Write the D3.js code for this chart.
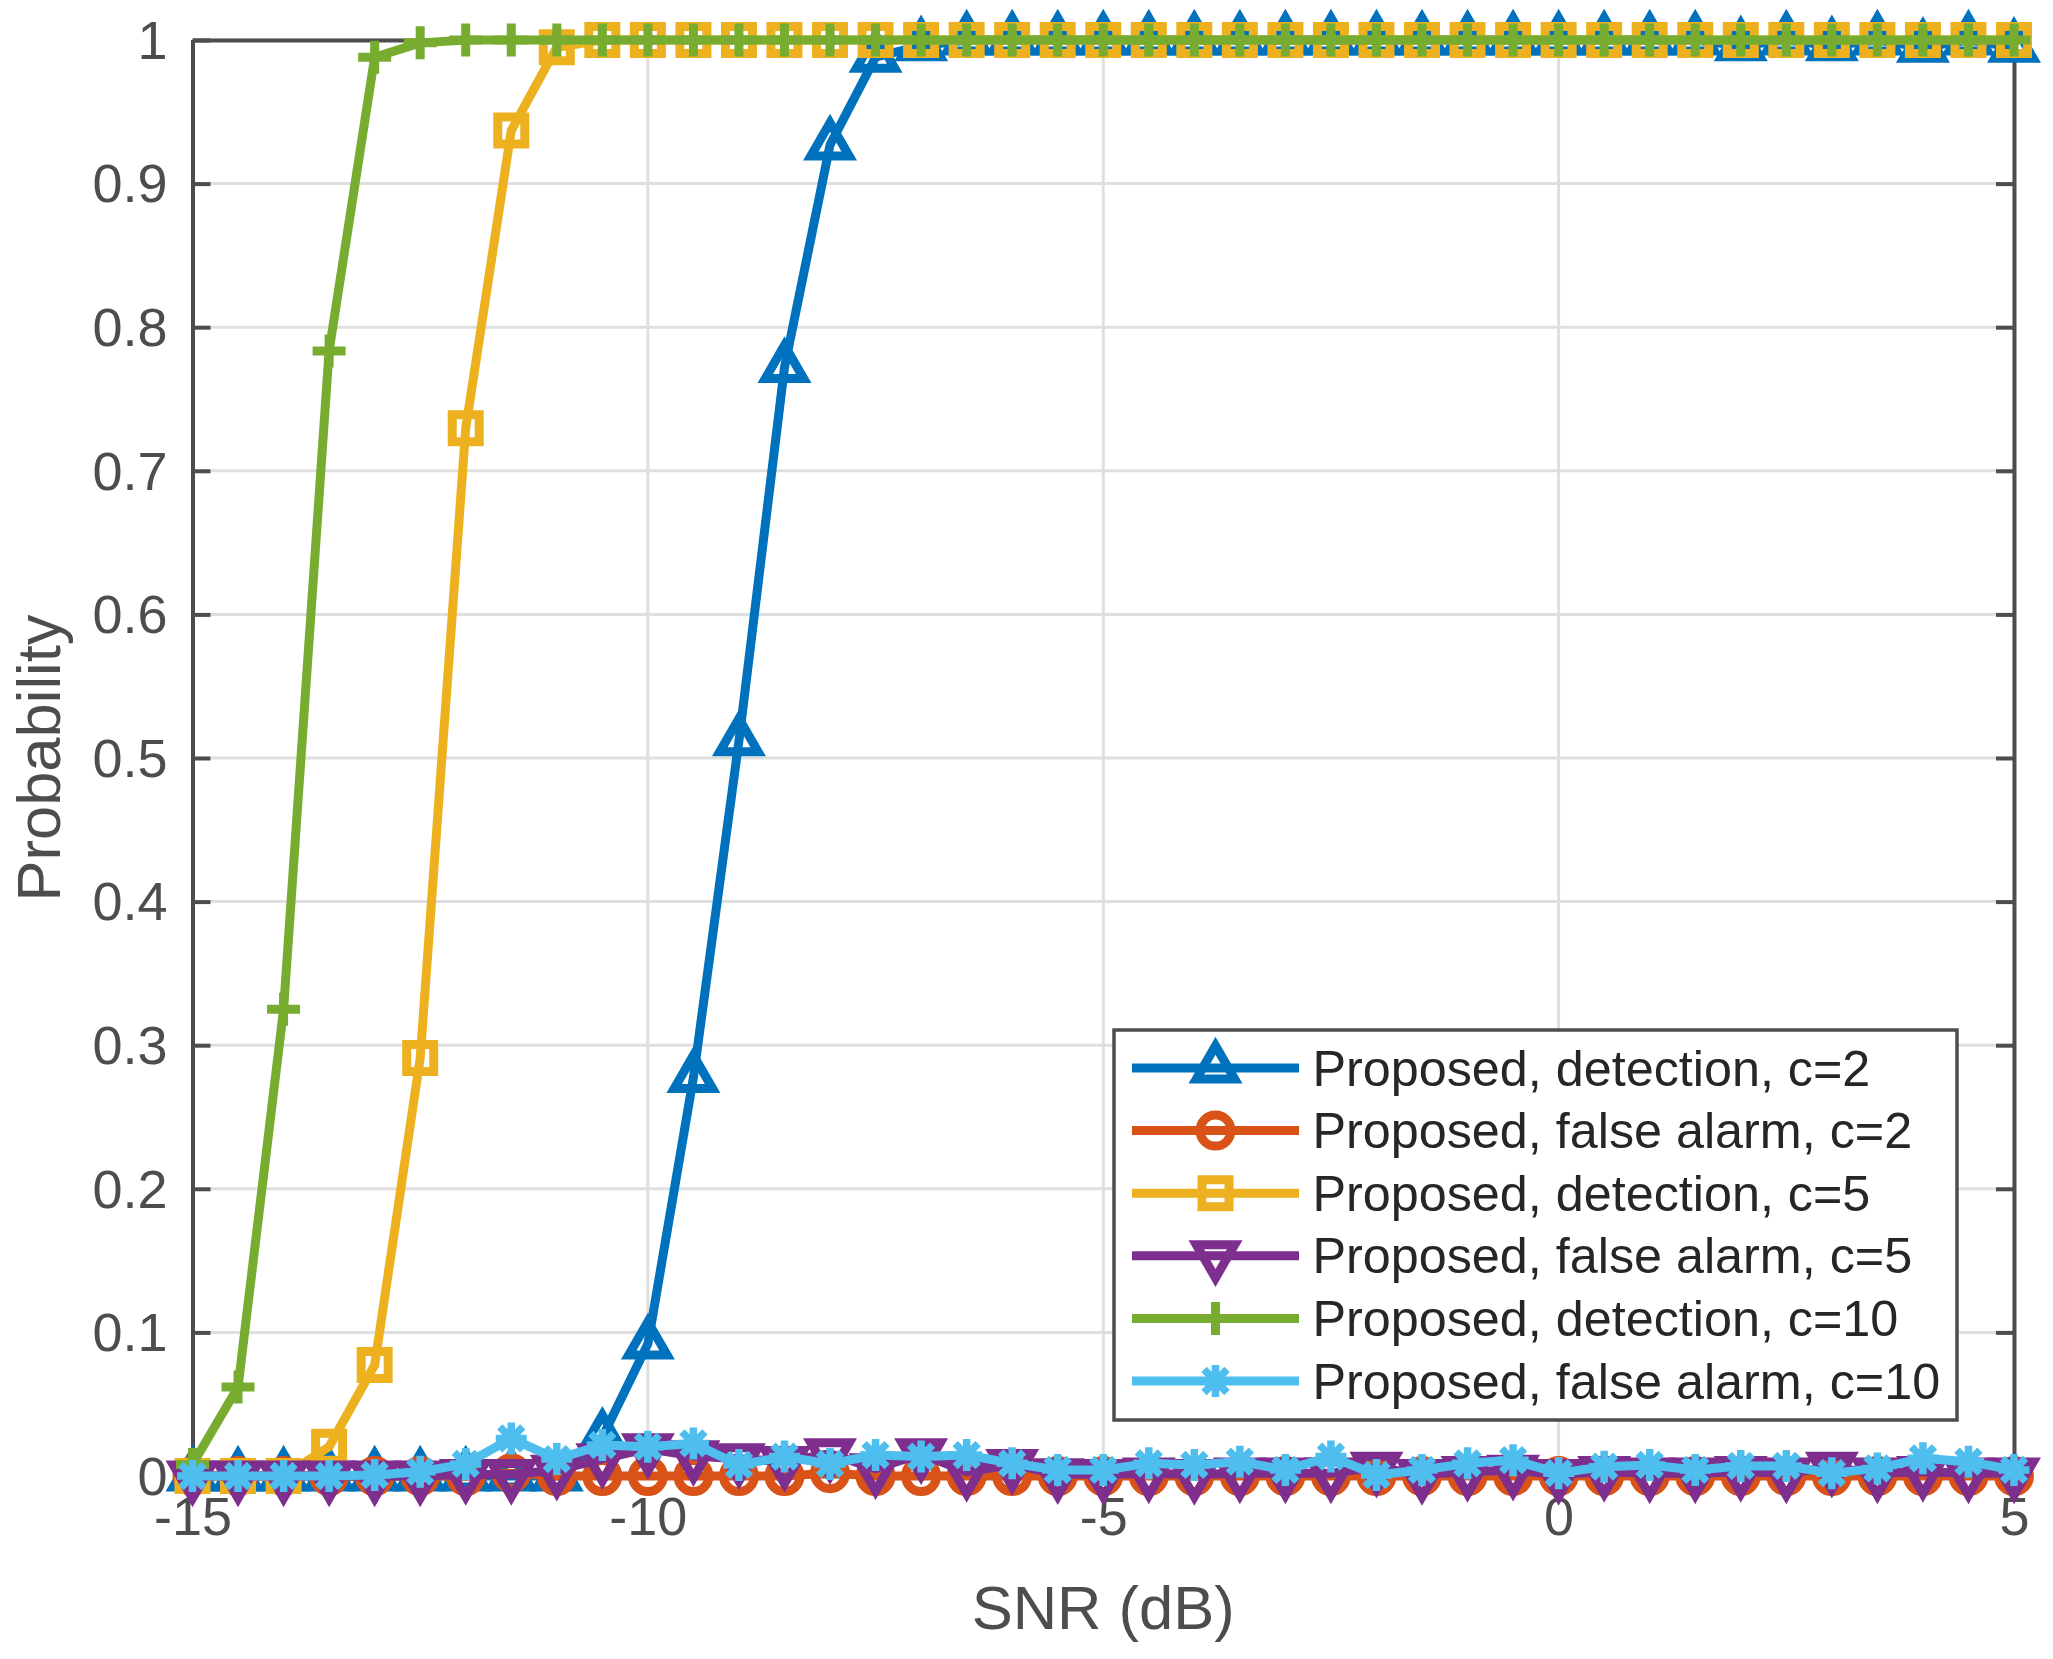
<!DOCTYPE html>
<html>
<head>
<meta charset="utf-8">
<script src="https://cdn.jsdelivr.net/npm/d3@7"></script>
<style>
body { margin: 0; background: #fff; }
svg { display: block; font-family: "Liberation Sans", Arial, Helvetica, sans-serif; }
</style>
</head>
<body>
<svg width="2053" height="1659"></svg>
<script>
// SNR points (dB)
var snr = [-15, -14.5, -14, -13.5, -13, -12.5, -12, -11.5, -11, -10.5, -10, -9.5, -9, -8.5, -8, -7.5, -7, -6.5, -6, -5.5,
    -5, -4.5, -4, -3.5, -3, -2.5, -2, -1.5, -1, -0.5, 0, 0.5, 1, 1.5, 2, 2.5, 3, 3.5, 4, 4.5, 5];

// series values
var detC2 = [0, 0, 0, 0, 0, 0, 0, 0, 0, 0.027, 0.092, 0.2775, 0.512, 0.772, 0.927, 0.988, 0.996,
    1, 1, 1, 1, 1, 1, 1, 1, 1, 1, 1, 1, 1, 1, 1, 1, 1, 0.996, 1, 0.996, 1, 0.995, 1, 0.995];
var faC2 = [0, 0, 0, 0, 0, 0, 0, 0.002, 0, 0, 0, 0, 0, 0, 0.002, 0, 0, 0, 0, 0,
    0, 0, 0, 0, 0, 0, 0, 0, 0, 0, 0, 0, 0, 0, 0, 0, 0, 0, 0, 0, 0];
var detC5 = [0, 0, 0, 0.0204, 0.0773, 0.291, 0.7297, 0.937, 0.995, 1, 1, 1, 1, 1, 1, 1, 1, 1, 1, 1,
    1, 1, 1, 1, 1, 1, 1, 1, 1, 1, 1, 1, 1, 1, 1, 1, 1, 1, 1, 1, 1];
var faC5 = [0, 0, 0, 0, 0, 0, 0.001, 0.001, 0.004, 0.012, 0.019, 0.014, 0.012, 0.01, 0.0155, 0.005, 0.0155, 0.003, 0.008, 0.0015,
    0.001, 0.002, 0.001, 0.002, 0.002, 0.002, 0.006, 0.001, 0.003, 0.004, 0.001, 0.003, 0.002, 0.002, 0.003, 0.002, 0.006, 0.002, 0.003, 0.002, 0.002];
var detC10 = [0.008, 0.062, 0.325, 0.7835, 0.988, 0.998, 1, 1, 1, 1, 1, 1, 1, 1, 1, 1, 1, 1, 1, 1,
    1, 1, 1, 1, 1, 1, 1, 1, 1, 1, 1, 1, 1, 1, 1, 1, 1, 1, 1, 1, 1];
var faC10 = [0, 0, 0, 0, 0.0007, 0.003, 0.0084, 0.0262, 0.0118, 0.0216, 0.0204, 0.0227, 0.0077, 0.0135, 0.0084, 0.0146, 0.0135, 0.0146, 0.0088, 0.0042,
    0.0042, 0.0088, 0.0077, 0.01, 0.0042, 0.0135, 0.0007, 0.0042, 0.0088, 0.011, 0.002, 0.0065, 0.0077, 0.0042, 0.007, 0.007, 0.002, 0.0053, 0.0123, 0.01, 0.0042];

var seriesNames = ["Proposed, detection, c=2", "Proposed, false alarm, c=2", "Proposed, detection, c=5",
    "Proposed, false alarm, c=5", "Proposed, detection, c=10", "Proposed, false alarm, c=10"];

// tick labels
var xTicks = [-15, -10, -5, 0, 5];
var yTicks = [0, 0.1, 0.2, 0.3, 0.4, 0.5, 0.6, 0.7, 0.8, 0.9, 1];

var colors = ["#0072BD", "#D95319", "#EDB120", "#7E2F8E", "#77AC30", "#4DBEEE"];
var markers = ["tri", "circle", "square", "triDown", "plus", "star"];
var allValues = [detC2, faC2, detC5, faC5, detC10, faC10];

var series = allValues.map(function(vals, i) {
    return {
        name: seriesNames[i], color: colors[i], marker: markers[i],
        points: vals.map(function(v, j) { return {x: snr[j], y: v}; })
    };
});

var axisColor = "#4d4d4d",
    lw = 9;

var svg = d3.select("svg");

var x = d3.scaleLinear().domain([-15, 5]).range([192.5, 2014]),
    y = d3.scaleLinear().domain([0, 1]).range([1476, 40]);

// marker shapes, centred on 0,0
function markerPath(type) {
    var s = 38.4, h = s * Math.sqrt(3) / 2;
    if (type == "tri") return "M0," + (-2 * h / 3) + "L" + (s / 2) + "," + (h / 3) + "L" + (-s / 2) + "," + (h / 3) + "Z";
    if (type == "triDown") return "M0," + (2 * h / 3) + "L" + (s / 2) + "," + (-h / 3) + "L" + (-s / 2) + "," + (-h / 3) + "Z";
    if (type == "circle") return "M15.5,0A15.5,15.5 0 1,1 -15.5,0A15.5,15.5 0 1,1 15.5,0Z";
    if (type == "square") return "M-13.5,-13.5H13.5V13.5H-13.5Z";
    if (type == "plus") return "M-16.5,0H16.5M0,-16.5V16.5";
    return "M-15.5,0H15.5M0,-16V16M-11.5,-11.5L11.5,11.5M-11.5,11.5L11.5,-11.5";
}
function markerWidth(type) { return type == "star" ? 7.5 : lw; }

// grid
svg.append("g").selectAll("line").data(xTicks).enter().append("line")
    .attr("x1", x).attr("x2", x).attr("y1", y(0)).attr("y2", y(1))
    .attr("stroke", "#dfdfdf").attr("stroke-width", 3);
svg.append("g").selectAll("line").data(yTicks).enter().append("line")
    .attr("y1", y).attr("y2", y).attr("x1", x(-15)).attr("x2", x(5))
    .attr("stroke", "#dfdfdf").attr("stroke-width", 3);

// axes, ticks pointing inward (box on)
function styleAxis(g) {
    g.attr("color", axisColor).attr("font-family", null).attr("font-size", 54);
    g.select(".domain").attr("stroke-width", 4);
    g.selectAll(".tick line").attr("stroke-width", 4);
}

svg.append("g")
    .attr("transform", "translate(0," + y(0) + ")")
    .call(d3.axisBottom(x).tickValues(xTicks).tickFormat(String).tickSizeInner(-18).tickSizeOuter(0).tickPadding(21))
    .call(styleAxis);

svg.append("g")
    .attr("transform", "translate(0," + y(1) + ")")
    .call(d3.axisTop(x).tickValues(xTicks).tickFormat(function() { return ""; }).tickSizeInner(-18).tickSizeOuter(0))
    .call(styleAxis);

svg.append("g")
    .attr("transform", "translate(" + x(-15) + ",0)")
    .call(d3.axisLeft(y).tickValues(yTicks).tickFormat(String).tickSizeInner(-18).tickSizeOuter(0).tickPadding(25))
    .call(styleAxis)
    .selectAll(".tick text").attr("dy", "0.34em");

svg.append("g")
    .attr("transform", "translate(" + x(5) + ",0)")
    .call(d3.axisRight(y).tickValues(yTicks).tickFormat(function() { return ""; }).tickSizeInner(-18).tickSizeOuter(0))
    .call(styleAxis);

// axis titles
svg.append("text")
    .attr("x", (x(-15) + x(5)) / 2)
    .attr("y", 1629)
    .attr("text-anchor", "middle")
    .attr("font-size", 61.5)
    .attr("fill", axisColor)
    .text("SNR (dB)");

svg.append("text")
    .attr("transform", "translate(60," + (y(0) + y(1)) / 2 + ") rotate(-90)")
    .attr("text-anchor", "middle")
    .attr("font-size", 61.5)
    .attr("fill", axisColor)
    .text("Probability");

// curves, each with its markers drawn right after it
var line = d3.line()
    .x(function(d) { return x(d.x); })
    .y(function(d) { return y(d.y); });

series.forEach(function(s) {
    var g = svg.append("g");
    g.append("path")
        .datum(s.points)
        .attr("d", line)
        .attr("fill", "none")
        .attr("stroke", s.color)
        .attr("stroke-width", lw)
        .attr("stroke-linejoin", "round");
    g.selectAll(".mk").data(s.points).enter().append("path")
        .attr("class", "mk")
        .attr("transform", function(d) { return "translate(" + x(d.x) + "," + y(d.y) + ")"; })
        .attr("d", markerPath(s.marker))
        .attr("fill", "none")
        .attr("stroke", s.color)
        .attr("stroke-width", markerWidth(s.marker))
        .attr("stroke-linejoin", "miter");
});

// legend
var legend = svg.append("g");
legend.append("rect")
    .attr("x", 1114).attr("y", 1030)
    .attr("width", 843).attr("height", 390)
    .attr("fill", "#fff")
    .attr("stroke", axisColor)
    .attr("stroke-width", 3.5);

var row = legend.selectAll(".row").data(series).enter().append("g")
    .attr("class", "row")
    .attr("transform", function(d, i) { return "translate(0," + (1068 + i * 62.6) + ")"; });

row.append("line")
    .attr("x1", 1132).attr("x2", 1299)
    .attr("stroke", function(d) { return d.color; })
    .attr("stroke-width", lw);

row.append("path")
    .attr("transform", "translate(1215.5,0)")
    .attr("d", function(d) { return markerPath(d.marker); })
    .attr("fill", "none")
    .attr("stroke", function(d) { return d.color; })
    .attr("stroke-width", function(d) { return markerWidth(d.marker); });

row.append("text")
    .attr("x", 1312.5)
    .attr("y", 17.5)
    .attr("font-size", 50.3)
    .attr("fill", "#262626")
    .text(function(d) { return d.name; });
</script>
</body>
</html>
